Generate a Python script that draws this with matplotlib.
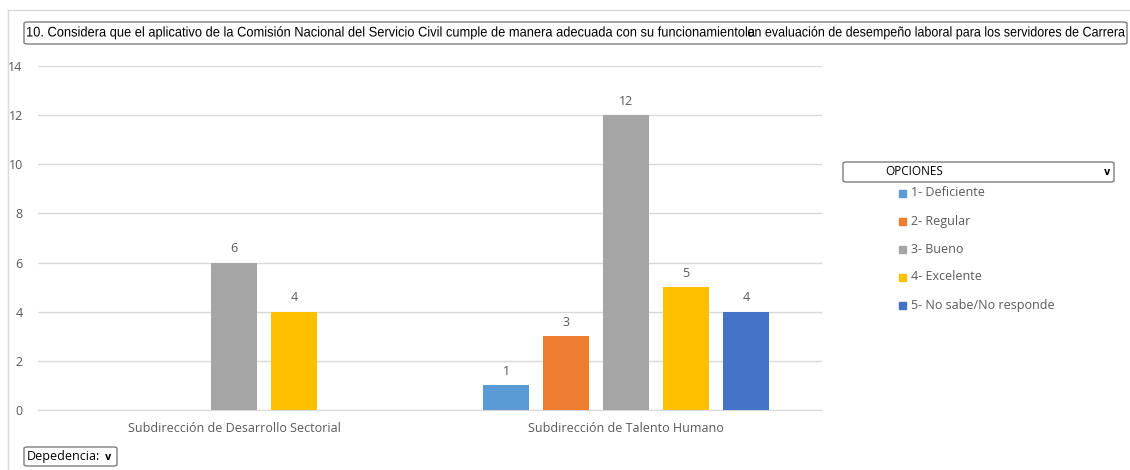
import matplotlib.pyplot as plt
from matplotlib.patches import Rectangle, FancyBboxPatch, PathPatch
from matplotlib.textpath import TextPath
from matplotlib.font_manager import FontProperties
from matplotlib.transforms import Affine2D, IdentityTransform
from matplotlib import font_manager
import numpy as np

# survey answers per dependency
categorias = ['Subdirección de Desarrollo Sectorial', 'Subdirección de Talento Humano']
opciones = ['1- Deficiente', '2- Regular', '3- Bueno', '4- Excelente', '5- No sabe/No responde']
colores = ['#5B9BD5', '#ED7D31', '#A5A5A5', '#FFC000', '#4472C4']
valores = [
    [0, 1],    # 1- Deficiente
    [0, 3],    # 2- Regular
    [6, 12],   # 3- Bueno
    [4, 5],    # 4- Excelente
    [0, 4],    # 5- No sabe/No responde
]
titulo_a = '10. Considera que el aplicativo de la Comisión Nacional del Servicio Civil cumple de manera adecuada con su funcionamientola'
titulo_b = 'en evaluación de desempeño laboral para los servidores de Carrera'

nombres = {f.name for f in font_manager.fontManager.ttflist}
fuente = 'Open Sans' if 'Open Sans' in nombres else 'DejaVu Sans'
plt.rcParams['font.family'] = [fuente, 'DejaVu Sans']
gris_txt = '#595959'

fig = plt.figure(figsize=(11.3, 4.7), dpi=100)
W, H = 1130, 470

def fx(px):
    return px / W

def fy(py):
    return 1 - py / H

def texto_angosto(s, x0, x1, y_base, size=14):
    # condensed text: squeeze a regular font path to fit between x0 and x1 (pixels)
    tp = TextPath((0, 0), s, size=size, prop=FontProperties(family='Liberation Sans'))
    ext = tp.get_extents()
    sx = (x1 - x0) / ext.width
    tr = Affine2D().translate(-ext.x0, 0).scale(sx, 1).translate(x0, H - y_base)
    fig.add_artist(PathPatch(tp, transform=tr + IdentityTransform(), fc='black', ec='none', lw=0))

# panel frame lines
fig.add_artist(plt.Line2D([fx(8), fx(8)], [fy(10), 0], color='#d9d9d9', lw=1))
fig.add_artist(plt.Line2D([fx(8), 1], [fy(10), fy(10)], color='#d9d9d9', lw=1))

ax = fig.add_axes([fx(38), fy(410), fx(822) - fx(38), fy(66) - fy(410)])
x = np.arange(len(categorias))
paso = 60 / 392
ancho = 46 / 392
for i, (op, col, vals) in enumerate(zip(opciones, colores, valores)):
    pos = x + (i - 2) * paso
    for p, v in zip(pos, vals):
        if v == 0:
            continue
        ax.bar(p, v, width=ancho, color=col, zorder=3)
        ax.text(p, v + 0.3, str(v), ha='center', va='bottom', fontsize=9, color=gris_txt)

ax.set_xlim(-0.5, 1.5)
ax.set_ylim(0, 14)
ax.set_yticks(range(0, 15, 2))
ax.set_xticks(x)
ax.set_xticklabels(categorias, fontsize=9, color=gris_txt)
ax.tick_params(axis='y', length=0, labelsize=9, labelcolor=gris_txt, pad=11)
ax.tick_params(axis='x', length=0, pad=9)
ax.grid(axis='y', color='#d9d9d9', lw=1, zorder=0)
for s in ['top', 'right', 'left']:
    ax.spines[s].set_visible(False)
ax.spines['bottom'].set_color('#d9d9d9')

# title box
fig.add_artist(FancyBboxPatch((fx(24), fy(44)), fx(1127) - fx(24), fy(22) - fy(44),
                              boxstyle='round,pad=0,rounding_size=0.003', fc='white',
                              ec='#7f7f7f', lw=1, transform=fig.transFigure))
texto_angosto(titulo_a, 27, 755, 36.5)
texto_angosto(titulo_b, 748, 1125, 36.5)

# legend header dropdown
fig.add_artist(FancyBboxPatch((fx(843), fy(182)), fx(1114) - fx(843), fy(162) - fy(182),
                              boxstyle='round,pad=0,rounding_size=0.003', fc='white',
                              ec='#7f7f7f', lw=1, transform=fig.transFigure))
fig.text(fx(885), fy(171.5), 'OPCIONES', fontsize=8.5, va='center', color='black')
fig.text(fx(1107), fy(172), 'v', fontsize=7, va='center', ha='center', color='black',
         family='DejaVu Sans', weight='bold')

ys = [193, 221, 249, 277, 305]
for op, col, yy in zip(opciones, colores, ys):
    fig.add_artist(Rectangle((fx(899), fy(yy + 4)), fx(7), 7 / H, color=col,
                             transform=fig.transFigure))
    fig.text(fx(911), fy(yy), op, fontsize=9, va='center', color=gris_txt)

# dependency dropdown
fig.add_artist(FancyBboxPatch((fx(24), fy(466)), fx(117) - fx(24), fy(447) - fy(466),
                              boxstyle='round,pad=0,rounding_size=0.003', fc='white',
                              ec='#7f7f7f', lw=1, transform=fig.transFigure))
fig.text(fx(27), fy(456.5), 'Depedencia:', fontsize=9, va='center', color='black')
fig.text(fx(108), fy(457), 'v', fontsize=7, va='center', ha='center', color='black',
         family='DejaVu Sans', weight='bold')

fig.savefig('out.png', dpi=100)
